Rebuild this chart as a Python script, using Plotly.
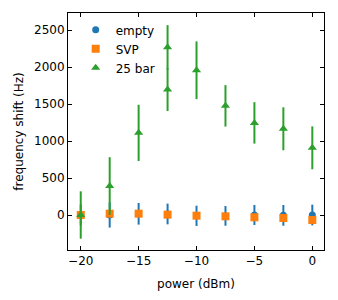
import plotly.graph_objects as go

power = [-20, -17.5, -15, -12.5, -10, -7.5, -5, -2.5, 0]

empty_y = [0, 0, 16, 14, -11, -12, 0, -5, 0]
empty_err = [140, 170, 146, 140, 137, 133, 135, 140, 140]

svp_y = [0, 18, 18, 5, -9, -18, -31, -40, -67]
svp_err = [30, 30, 30, 30, 30, 30, 30, 30, 30]

bar25_x = [-20, -17.5, -15, -12.5, -12.5, -10, -7.5, -5, -2.5, 0]
bar25_y = [0, 391, 1110, 2266, 1695, 1956, 1475, 1245, 1165, 908]
bar25_err = [320, 390, 380, 300, 290, 390, 280, 280, 290, 290]

fig = go.Figure()
fig.add_trace(go.Scatter(
    x=power, y=empty_y, mode="markers", name="empty",
    marker=dict(symbol="circle", size=7, color="#1f77b4"),
    error_y=dict(type="data", array=empty_err, thickness=2, width=0, color="#1f77b4"),
))
fig.add_trace(go.Scatter(
    x=power, y=svp_y, mode="markers", name="SVP",
    marker=dict(symbol="square", size=8, color="#ff7f0e"),
    error_y=dict(type="data", array=svp_err, thickness=2, width=0, color="#ff7f0e"),
))
fig.add_trace(go.Scatter(
    x=bar25_x, y=bar25_y, mode="markers", name="25 bar",
    marker=dict(symbol="triangle-up", size=8, color="#2ca02c"),
    error_y=dict(type="data", array=bar25_err, thickness=2, width=0, color="#2ca02c"),
))

axis_common = dict(
    showline=True, linecolor="black", linewidth=1, mirror="ticks",
    ticks="inside", ticklen=4, tickwidth=1, tickcolor="black",
    showgrid=False, zeroline=False, automargin=False,
    tickfont=dict(family="DejaVu Sans", size=12, color="black"),
    title_font=dict(family="DejaVu Sans", size=12, color="black"),
)
fig.update_xaxes(range=[-21.1, 1.01], tickvals=[-20, -15, -10, -5, 0],
                 ticktext=["\u221220", "\u221215", "\u221210", "\u22125", "0"],
                 title_text="power (dBm)", title_standoff=12, **axis_common)
fig.update_yaxes(range=[-473, 2730], tickvals=[0, 500, 1000, 1500, 2000, 2500],
                 title_text="frequency shift (Hz)", title_standoff=7, **axis_common)

fig.update_layout(
    width=330, height=292,
    margin=dict(l=60, r=14, t=5, b=50),
    paper_bgcolor="white", plot_bgcolor="white",
    font=dict(family="DejaVu Sans", size=12, color="black"),
    showlegend=True,
    legend=dict(x=0.03, y=0.99, xanchor="left", yanchor="top",
                bgcolor="rgba(0,0,0,0)", font=dict(size=12),
                itemsizing="trace", tracegroupgap=0),
)

fig.write_html("out.html")
